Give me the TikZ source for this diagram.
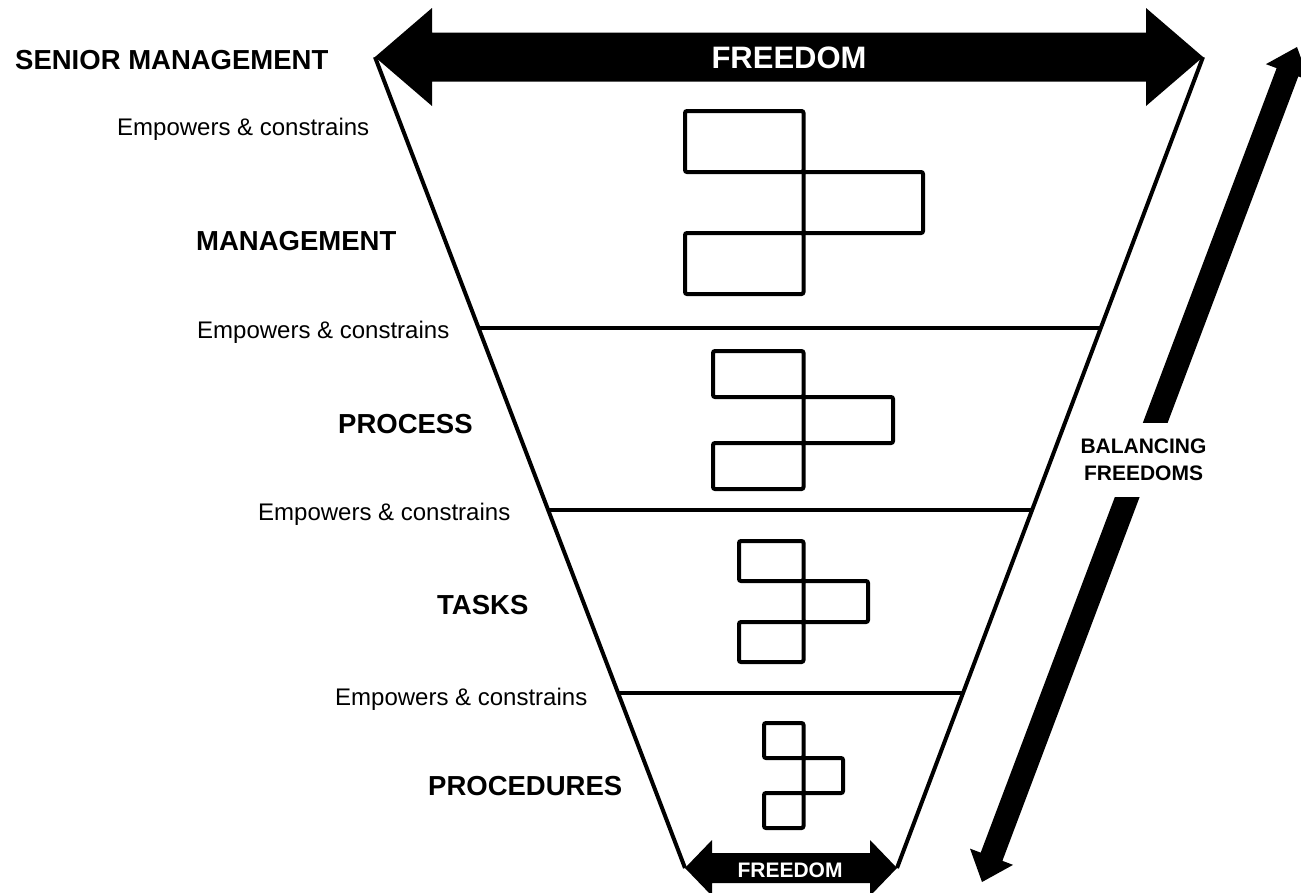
\documentclass[tikz,border=0pt]{standalone}
\usepackage{fontspec}
\setmainfont{Liberation Sans}
\usetikzlibrary{calc}
\begin{document}
\begin{tikzpicture}[x=1pt,y=-1pt,
  lvl/.style={font=\fontsize{27.5}{33}\selectfont\bfseries, anchor=base west, inner sep=0pt},
  emp/.style={font=\fontsize{24}{29}\selectfont, anchor=base west, inner sep=0pt},
  funnel/.style={line width=4pt},
  sepline/.style={line width=4pt},
  blk/.style={line width=4pt, rounded corners=2pt},
  blockarrow/.style={fill=black, draw=none},
  arrowtext/.style={text=white, font=\bfseries, anchor=base, inner sep=0pt}
]
\useasboundingbox (0,0) rectangle (1301,892);
\clip (0,0) rectangle (1301,892);

% funnel corners
\coordinate (TL) at (375,57);
\coordinate (TR) at (1203,57);
\coordinate (BL) at (685,868);
\coordinate (BR) at (897,868);

\draw[funnel] (TL) -- (BL);
\draw[funnel] (TR) -- (BR);

% level boundaries
\coordinate (L1) at ($(TL)!0.33416!(BL)$);
\coordinate (R1) at ($(TR)!0.33416!(BR)$);
\coordinate (L2) at ($(TL)!0.55857!(BL)$);
\coordinate (R2) at ($(TR)!0.55857!(BR)$);
\coordinate (L3) at ($(TL)!0.78422!(BL)$);
\coordinate (R3) at ($(TR)!0.78422!(BR)$);
\draw[sepline] (L1) -- (R1);
\draw[sepline] (L2) -- (R2);
\draw[sepline] (L3) -- (R3);

% structure blocks
\draw[blk] (685,111) rectangle (803.5,172);
\draw[blk] (803.5,172) rectangle (923,233);
\draw[blk] (685,233) rectangle (803.5,294);

\draw[blk] (713,351) rectangle (803.5,397);
\draw[blk] (803.5,397) rectangle (893,443);
\draw[blk] (713,443) rectangle (803.5,489);

\draw[blk] (739,541) rectangle (803.5,581);
\draw[blk] (803.5,581) rectangle (868,622);
\draw[blk] (739,622) rectangle (803.5,662);

\draw[blk] (764,723) rectangle (803.5,758);
\draw[blk] (803.5,758) rectangle (843,793);
\draw[blk] (764,793) rectangle (803.5,828);

% top FREEDOM arrow
\fill[blockarrow] (TL) -- (432,8) -- (432,32.5) -- (1146,32.5) -- (1146,8) -- (TR)
  -- (1146,106) -- (1146,81.5) -- (432,81.5) -- (432,106) -- cycle;
\node[arrowtext, font=\fontsize{31}{37}\selectfont\bfseries] (topfree) at (789,68.5) {FREEDOM};

% bottom FREEDOM arrow
\fill[blockarrow] (BL) -- (712,840) -- (712,853) -- (870,853) -- (870,840) -- (BR)
  -- (870,896) -- (870,883) -- (712,883) -- (712,896) -- cycle;
\node[arrowtext, font=\fontsize{21}{25}\selectfont\bfseries] (botfree) at (790,877) {FREEDOM};

% balancing arrow
\coordinate (BA) at (982,882);
\coordinate (BB) at (1297,47);
\fill[blockarrow] (BA) -- (1013.05,864.86) -- (1002.38,860.83) -- (1298.32,76.35)
  -- (1308.99,80.38) -- (BB) -- (1265.95,64.14) -- (1276.62,68.17)
  -- (980.68,852.65) -- (970.01,848.62) -- cycle;
\node[fill=white, inner xsep=0pt, inner ysep=0pt, minimum height=74pt, align=center,
  font=\fontsize{21}{26.5}\selectfont\bfseries] (bal) at (1143.5,460) {BALANCING\\FREEDOMS};

% labels
\node[lvl] (sm) at (15,69) {SENIOR MANAGEMENT};
\node[emp] (e1) at (117,135) {Empowers \& constrains};
\node[lvl] (mg) at (196,250) {MANAGEMENT};
\node[emp] (e2) at (197,338) {Empowers \& constrains};
\node[lvl] (pr) at (338,433) {PROCESS};
\node[emp] (e3) at (258,520) {Empowers \& constrains};
\node[lvl] (tk) at (437,614) {TASKS};
\node[emp] (e4) at (335,705) {Empowers \& constrains};
\node[lvl] (pd) at (428,795) {PROCEDURES};
\end{tikzpicture}
\end{document}
